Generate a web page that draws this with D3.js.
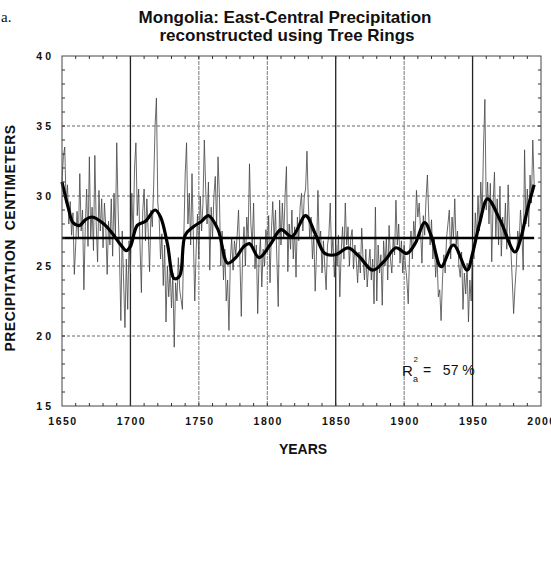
<!DOCTYPE html>
<html>
<head>
	<meta charset="utf-8">
	<title>Mongolia: East-Central Precipitation</title>
	<style type="text/css">
	body { margin:0; background:#fff; }
	svg text { font-family: "Liberation Sans", Arial, sans-serif; fill:#111; }
	</style>
</head>
<body>
	<div id="chart"></div>
	<script src="https://d3js.org/d3.v7.min.js"></script>
	<script type="text/javascript">
		// datos: precipitacion anual reconstruida (cm), 1650-1995
		var startYear = 1650;
		var precip = [
			31.0,32.8,33.5,29.5,30.8,28.0,29.6,27.2,28.8,24.4,
			26.5,28.9,27.0,31.6,27.5,29.0,23.3,27.8,30.5,26.4,
			32.8,27.0,29.2,26.1,32.9,28.0,25.3,30.4,27.5,29.8,
			26.3,29.5,27.8,24.4,28.2,26.5,29.8,25.7,30.2,27.0,
			33.8,29.0,25.8,21.1,27.5,24.0,20.6,25.5,21.9,26.8,
			24.5,30.2,27.0,32.0,33.8,28.6,30.5,26.5,23.1,28.9,
			30.5,26.8,29.8,27.4,24.6,29.0,27.8,30.8,35.0,37.0,
			29.5,28.4,25.5,27.3,23.6,26.5,21.0,25.0,22.8,24.8,
			22.0,24.5,19.2,23.8,22.5,25.6,23.3,22.6,21.9,27.0,
			31.5,33.8,28.0,30.2,26.5,31.6,27.0,22.5,26.0,28.7,
			25.5,30.0,27.5,29.5,34.0,30.5,28.0,31.0,24.7,29.2,
			27.0,30.0,31.4,27.8,32.8,30.0,25.0,27.5,24.0,26.2,
			22.5,24.0,20.4,25.5,27.0,24.7,26.8,25.8,27.2,29.0,
			25.5,21.4,26.0,27.8,25.0,28.5,27.0,32.3,28.0,26.5,
			29.5,24.8,26.5,21.6,25.5,27.0,23.5,26.2,25.0,27.6,
			26.0,28.6,23.8,27.5,29.6,26.8,29.0,25.5,22.1,29.7,
			26.5,29.5,27.0,30.0,32.1,24.6,28.0,26.2,29.0,25.5,
			27.8,24.2,28.5,26.8,29.2,30.2,27.5,30.0,30.5,33.2,
			29.5,27.0,28.5,25.5,27.2,23.2,26.0,30.4,26.5,27.5,
			24.5,26.8,25.0,23.3,26.5,27.2,29.5,25.8,27.0,24.2,
			26.5,25.0,27.2,22.8,26.0,27.8,25.5,29.5,26.5,27.8,
			25.0,27.0,27.6,24.8,26.5,25.5,23.8,26.0,24.5,27.7,
			25.5,24.0,26.2,23.5,25.0,26.2,24.0,25.5,22.3,29.2,
			22.5,26.5,24.5,25.8,22.2,26.8,25.0,27.0,24.0,27.9,
			25.5,24.5,27.0,25.8,29.7,26.5,28.0,25.2,26.8,24.5,
			26.5,25.0,24.0,22.3,26.0,27.5,25.5,28.2,27.0,30.4,
			28.5,29.5,27.5,25.2,28.6,27.2,29.8,31.5,28.5,26.5,
			28.3,25.5,27.0,24.2,25.8,22.8,23.3,21.1,24.0,25.8,
			24.5,27.0,28.0,29.0,25.5,28.5,27.0,29.8,26.5,27.5,
			25.0,24.2,26.0,21.9,24.5,23.0,25.2,21.0,24.0,22.5,
			26.8,25.5,28.8,27.0,30.0,27.5,31.0,28.5,33.5,36.9,
			29.0,31.0,28.0,30.9,25.3,29.5,31.7,27.0,29.8,26.5,
			30.7,25.7,28.5,27.0,29.5,26.2,30.8,27.5,26.1,24.0,
			21.6,23.5,25.0,27.5,26.5,29.0,27.5,24.7,33.3,28.0,
			30.5,27.8,31.5,29.5,34.0,30.8
		];

		// curva suavizada
		var smoothYears  = [1650,1655,1658,1663,1667,1672,1680,1687,1693,1697,1700,1705,1711,1718,1722,1727,1732,1736,1740,1746,1752,1757,1764,1771,1777,1783,1787,1794,1802,1810,1818,1828,1835,1842,1850,1859,1867,1877,1886,1894,1902,1908,1915,1920,1927,1936,1946,1950,1955,1961,1970,1981,1985,1990,1995];
		var smoothValues = [31.0,29.0,28.1,27.9,28.3,28.5,28.05,27.3,26.5,26.1,26.4,27.9,28.2,29.0,28.5,26.6,24.1,24.3,27.2,27.8,28.2,28.6,27.6,25.2,25.6,26.4,26.6,25.6,26.5,27.6,27.1,28.6,27.3,25.9,25.8,26.3,25.7,24.7,25.4,26.3,25.9,26.6,28.1,27.1,24.95,26.5,24.7,25.9,28.0,29.8,28.3,26.0,26.9,29.0,30.8];

		var meanValue = 27;
		var meanYears = [1650, 1995];

		var xTicks = [1650,1700,1750,1800,1850,1900,1950,2000];
		var yTicks = [15,20,25,30,35,40];
		var darkGrid = [1700,1850,1950];
		var lightGrid = [1750,1800,1900];

		var W = 551, H = 575;
		var pL = 62, pR = 541, pT = 56, pB = 406;

		var svg = d3.select("#chart")
			.append("svg")
			.attr("width", W)
			.attr("height", H);

		var x = d3.scaleLinear().domain([1650, 2000]).range([pL, pR]);
		var y = d3.scaleLinear().domain([15, 40]).range([pB, pT]);

		// titulo
		svg.append("text")
			.attr("x", 1).attr("y", 22)
			.style("font-family", "'Liberation Serif', 'Times New Roman', serif")
			.style("font-size", "15px")
			.text("a.");
		svg.append("text")
			.attr("x", 285).attr("y", 23)
			.attr("text-anchor", "middle")
			.style("font-size", "17px").style("font-weight", "bold")
			.text("Mongolia: East-Central Precipitation");
		svg.append("text")
			.attr("x", 287).attr("y", 41)
			.attr("text-anchor", "middle")
			.style("font-size", "17px").style("font-weight", "bold")
			.text("reconstructed using Tree Rings");

		// rejilla horizontal punteada
		svg.selectAll(".hgrid")
			.data([20,25,30,35])
			.enter().append("line")
			.attr("x1", pL).attr("x2", pR)
			.attr("y1", function(d){ return y(d); })
			.attr("y2", function(d){ return y(d); })
			.attr("stroke", "#666")
			.attr("stroke-width", 1)
			.attr("stroke-dasharray", "3,2");

		// rejilla vertical
		svg.selectAll(".vgridl")
			.data(lightGrid)
			.enter().append("line")
			.attr("x1", function(d){ return x(d); })
			.attr("x2", function(d){ return x(d); })
			.attr("y1", pT).attr("y2", pB)
			.attr("stroke", "#777")
			.attr("stroke-width", 1)
			.attr("stroke-dasharray", "4,1");
		svg.selectAll(".vgridd")
			.data(darkGrid)
			.enter().append("line")
			.attr("x1", function(d){ return x(d); })
			.attr("x2", function(d){ return x(d); })
			.attr("y1", pT).attr("y2", pB)
			.attr("stroke", "#222")
			.attr("stroke-width", 1.3);

		// serie anual
		var line = d3.line()
			.x(function(d, i){ return x(startYear + i); })
			.y(function(d){ return y(d); });
		svg.append("path")
			.datum(precip)
			.attr("d", line)
			.attr("fill", "none")
			.attr("stroke", "#444")
			.attr("stroke-width", 0.8);

		// media
		svg.append("line")
			.attr("x1", x(meanYears[0])).attr("x2", x(meanYears[1]))
			.attr("y1", y(meanValue)).attr("y2", y(meanValue))
			.attr("stroke", "#000")
			.attr("stroke-width", 2.6);

		// curva suavizada
		var smooth = d3.line()
			.x(function(d, i){ return x(smoothYears[i]); })
			.y(function(d){ return y(d); })
			.curve(d3.curveCatmullRom);
		svg.append("path")
			.datum(smoothValues)
			.attr("d", smooth)
			.attr("fill", "none")
			.attr("stroke", "#000")
			.attr("stroke-width", 3.2);

		// marco
		svg.append("rect")
			.attr("x", pL).attr("y", pT)
			.attr("width", pR - pL).attr("height", pB - pT)
			.attr("fill", "none")
			.attr("stroke", "#444")
			.attr("stroke-width", 1);

		// ticks menores hacia dentro
		var yMinor = d3.range(16, 40, 1);
		var xMinor = d3.range(1660, 2000, 10);
		svg.selectAll(".tl").data(yMinor).enter().append("line")
			.attr("x1", pL).attr("x2", pL + 3)
			.attr("y1", function(d){ return y(d); }).attr("y2", function(d){ return y(d); })
			.attr("stroke", "#333");
		svg.selectAll(".tr").data(yMinor).enter().append("line")
			.attr("x1", pR - 3).attr("x2", pR)
			.attr("y1", function(d){ return y(d); }).attr("y2", function(d){ return y(d); })
			.attr("stroke", "#333");
		svg.selectAll(".tt").data(xMinor).enter().append("line")
			.attr("x1", function(d){ return x(d); }).attr("x2", function(d){ return x(d); })
			.attr("y1", pT).attr("y2", pT + 3)
			.attr("stroke", "#333");
		svg.selectAll(".tb").data(xMinor).enter().append("line")
			.attr("x1", function(d){ return x(d); }).attr("x2", function(d){ return x(d); })
			.attr("y1", pB - 3).attr("y2", pB)
			.attr("stroke", "#333");

		// etiquetas de los ejes
		svg.selectAll(".ylab").data(yTicks).enter().append("text")
			.attr("x", 54)
			.attr("y", function(d){ return y(d) + 4; })
			.attr("text-anchor", "end")
			.style("font-size", "10.5px").style("font-weight", "bold")
			.style("letter-spacing", "3px")
			.text(function(d){ return d; });
		svg.selectAll(".xlab").data(xTicks).enter().append("text")
			.attr("x", function(d){ return x(d) + 1; })
			.attr("y", 425)
			.attr("text-anchor", "middle")
			.style("font-size", "10.5px").style("font-weight", "bold")
			.style("letter-spacing", "1.5px")
			.text(function(d){ return d; });

		svg.append("text")
			.attr("x", 303).attr("y", 454)
			.attr("text-anchor", "middle")
			.style("font-size", "14px").style("font-weight", "bold")
			.text("YEARS");
		svg.append("text")
			.attr("transform", "translate(15,238) rotate(-90)")
			.attr("text-anchor", "middle")
			.style("font-size", "14px").style("font-weight", "bold")
			.style("letter-spacing", "0.5px")
			.style("white-space", "pre")
			.text("PRECIPITATION  CENTIMETERS");

		// R cuadrado ajustado
		svg.append("text").attr("x", 402).attr("y", 376)
			.style("font-size", "15px").text("R");
		svg.append("text").attr("x", 413.5).attr("y", 362)
			.style("font-size", "8px").text("2");
		svg.append("text").attr("x", 413).attr("y", 382)
			.style("font-size", "9px").text("a");
		svg.append("text").attr("x", 423).attr("y", 375)
			.style("font-size", "14px").style("white-space", "pre")
			.text("=   57 %");
	</script>
</body>
</html>
